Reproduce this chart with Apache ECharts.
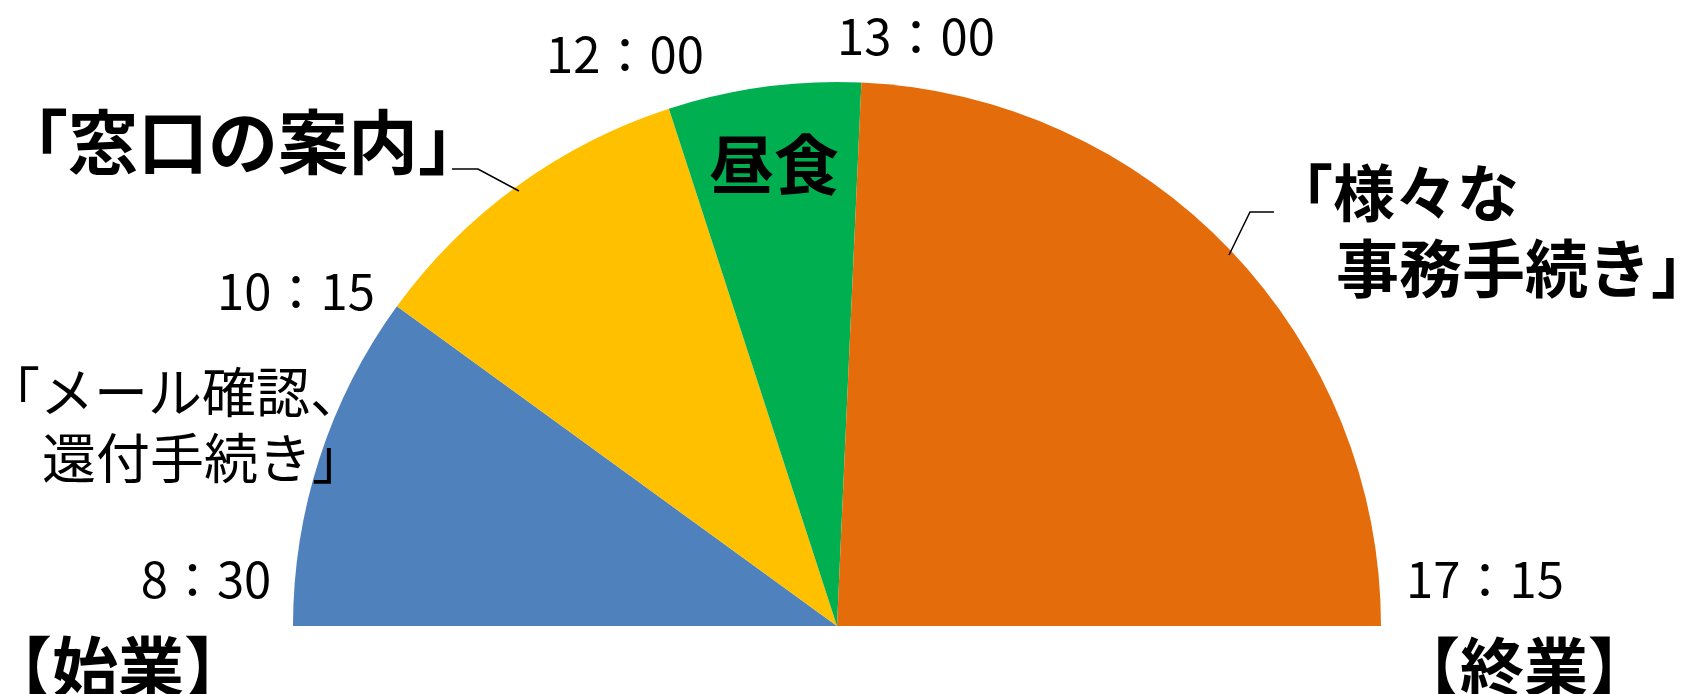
<!DOCTYPE html>
<html>
<head>
<meta charset="utf-8">
<script src="https://cdn.jsdelivr.net/npm/echarts@6/dist/echarts.min.js"></script>
<style>
    html, body { margin: 0; padding: 0; background: #fff; }
    #main { width: 1686px; height: 694px; }
</style>
</head>
<body>
<div id="main"></div>
<script>
// 業務の流れ（分）
var tasks = ['「メール確認、\n還付手続き」', '「窓口の案内」', '昼食', '「様々な\n事務手続き」'];
var minutes = [105, 105, 60, 255];
var times = ['8:30', '10:15', '12:00', '13:00', '17:15'];
var ends = ['【始業】', '【終業】'];

var font = '"Noto Sans CJK JP", sans-serif';

function txt(str, x, y, size, weight, align) {
    return {
        type: 'text',
        x: x,
        y: y,
        z: 100,
        style: {
            text: str,
            fontSize: size,
            fontWeight: weight || 'normal',
            fontFamily: font,
            fill: '#000',
            align: align || 'center',
            verticalAlign: 'middle'
        }
    };
}

function wide(t) {
    return t.replace(':', '：');
}

var myChart = echarts.init(document.getElementById('main'));

var blue = tasks[0].split('\n');
var orange = tasks[3].split('\n');

var option = {
    backgroundColor: '#fff',
    animation: false,
    series: [{
        type: 'pie',
        center: [837, 626],
        radius: 544,
        startAngle: 180,
        endAngle: 0,
        clockwise: true,
        silent: true,
        label: { show: false },
        labelLine: { show: false },
        itemStyle: { borderWidth: 0 },
        data: minutes.map(function (v, i) {
            return {
                name: tasks[i],
                value: v,
                itemStyle: { color: ['#4f81bd', '#ffc000', '#00b050', '#e46c0a'][i] }
            };
        })
    }],
    graphic: [
        // 時刻
        txt(wide(times[0]), 206, 579, 49),
        txt(wide(times[1]), 296, 291, 49),
        txt(wide(times[2]), 625, 54, 49),
        txt(wide(times[3]), 916, 36, 49),
        txt(wide(times[4]), 1485, 579, 49),
        // 始業・終業
        txt(ends[0], 118, 667, 66, 'bold'),
        txt(ends[1], 1524, 667, 64, 'bold'),
        // 業務名
        txt(blue[0], 364, 392, 54, 'normal', 'right'),
        txt(blue[1], 366, 458, 54, 'normal', 'right'),
        txt(tasks[1], -2, 142, 70, 'bold', 'left'),
        txt(tasks[2], 774, 164, 65, 'bold'),
        txt(orange[0], 1271, 193, 62, 'bold', 'left'),
        txt(orange[1], 1336, 268, 63, 'bold', 'left'),
        // 引き出し線
        {
            type: 'polyline',
            z: 100,
            shape: { points: [[452, 169], [478, 169], [519, 191]] },
            style: { stroke: '#000', lineWidth: 1.5, fill: null }
        },
        {
            type: 'polyline',
            z: 100,
            shape: { points: [[1274, 212], [1250, 212], [1229, 255]] },
            style: { stroke: '#000', lineWidth: 1.5, fill: null }
        }
    ]
};
myChart.setOption(option);
</script>
</body>
</html>
